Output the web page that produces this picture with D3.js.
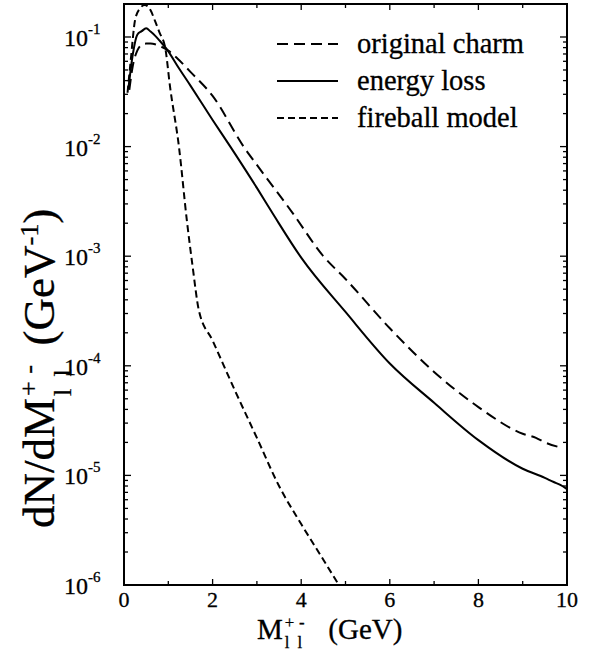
<!DOCTYPE html>
<html>
<head>
<meta charset="utf-8">
<script src="https://cdn.jsdelivr.net/npm/d3@7"></script>
<style>
  body { margin: 0; background: #fff; }
  text { font-family: "Liberation Serif", "Times New Roman", serif; fill: #000; stroke: #000; stroke-width: 0.3px; }
</style>
</head>
<body>
<div id="chart"></div>
<script>
// data (mass in GeV, yield in 1/GeV)
var charmX = [0.12, 0.2, 0.3, 0.4, 0.5, 0.6, 0.7, 0.8, 1.0, 1.2, 1.5, 2.0, 2.7, 3.0, 3.8, 4.5, 5.0, 6.0, 7.0, 8.0, 9.0, 9.3, 9.5, 9.85];
var charmY = [0.033, 0.055, 0.075, 0.085, 0.087, 0.087, 0.086, 0.083, 0.075, 0.064, 0.048, 0.029, 0.01, 0.0068, 0.0025, 0.001, 0.00062, 0.00022, 0.000088, 0.000042, 0.000024, 0.000022, 0.00002, 0.000018];

var elossX = [0.1, 0.2, 0.3, 0.4, 0.5, 0.6, 0.7, 0.8, 1.0, 1.2, 1.5, 2.0, 2.4, 3.0, 3.4, 4.0, 5.0, 6.0, 7.0, 8.0, 9.0, 9.5, 9.7, 9.85, 10.0];
var elossY = [0.034, 0.07, 0.105, 0.113, 0.12, 0.112, 0.103, 0.093, 0.074, 0.055, 0.036, 0.0175, 0.01, 0.0042, 0.0023, 0.00097, 0.00031, 0.000105, 0.000046, 0.000021, 0.0000115, 0.0000095, 0.0000087, 0.0000082, 0.0000075];

var fireX = [0.08, 0.15, 0.25, 0.35, 0.47, 0.6, 0.7, 0.8, 0.93, 1.04, 1.24, 1.42, 1.55, 1.69, 2.0, 2.5, 3.0, 3.5, 4.0, 4.5, 4.85];
var fireY = [0.031, 0.06, 0.143, 0.18, 0.196, 0.175, 0.14, 0.11, 0.08, 0.035, 0.01, 0.0021, 0.0008, 0.00032, 0.00017, 0.00006, 0.000022, 0.000008, 0.0000036, 0.0000017, 0.000001];

var xTicks = [0, 2, 4, 6, 8, 10];
var yExps = [-1, -2, -3, -4, -5, -6];
var legendNames = ["original charm", "energy loss", "fireball model"];

// set the dimensions and margins of the graph
var margin = {top: 4, right: 22, bottom: 69, left: 124},
    width = 589 - margin.left - margin.right,
    height = 654 - margin.top - margin.bottom;

var svg = d3.select("#chart")
  .append("svg")
    .attr("width", 589)
    .attr("height", 654);

var g = svg.append("g")
    .attr("transform", "translate(" + margin.left + "," + margin.top + ")");

var x = d3.scaleLinear().domain([0, 10]).range([0, width]);
var y = d3.scaleLog().domain([1e-6, 0.2]).range([height, 0]);

// minor/major ticks, all pointing inward on the four sides
var xMinor = d3.range(0, 11);
var yMinor = [];
for (var e = -6; e <= -1; e++) {
  for (var k = 1; k <= 9; k++) {
    var v = k * Math.pow(10, e);
    if (v <= 0.2) yMinor.push(v);
  }
}

function isMajorY(v) { return Math.abs(Math.log10(v) - Math.round(Math.log10(v))) < 1e-6; }

var ticks = g.append("g").attr("stroke", "#000").attr("stroke-width", 1.3);
xMinor.forEach(function(v) {
  var len = v % 2 === 0 ? 6 : 4;
  ticks.append("line").attr("x1", x(v)).attr("x2", x(v)).attr("y1", height).attr("y2", height - len);
  ticks.append("line").attr("x1", x(v)).attr("x2", x(v)).attr("y1", 0).attr("y2", len);
});
yMinor.forEach(function(v) {
  var len = isMajorY(v) ? 7 : 4;
  ticks.append("line").attr("x1", 0).attr("x2", len).attr("y1", y(v)).attr("y2", y(v));
  ticks.append("line").attr("x1", width).attr("x2", width - len).attr("y1", y(v)).attr("y2", y(v));
});

// frame
g.append("rect")
  .attr("width", width).attr("height", height)
  .attr("fill", "none").attr("stroke", "#000").attr("stroke-width", 2);

// x tick labels
g.selectAll(".xlab")
  .data(xTicks)
  .enter().append("text")
    .attr("x", function(d) { return x(d); })
    .attr("y", height + 22)
    .attr("text-anchor", "middle")
    .attr("font-size", 22)
    .text(function(d) { return d; });

// y tick labels 10^n
yExps.forEach(function(n) {
  g.append("text")
    .attr("x", -36)
    .attr("y", y(Math.pow(10, n)) + 9)
    .attr("text-anchor", "end")
    .attr("font-size", 24)
    .text("10");
  g.append("text")
    .attr("x", -36)
    .attr("y", y(Math.pow(10, n)) - 3)
    .attr("font-size", 15)
    .text("-" + Math.abs(n));
});

// curves
var line = d3.line()
  .x(function(d) { return x(d[0]); })
  .y(function(d) { return y(d[1]); })
  .curve(d3.curveMonotoneX);

var series = [
  {xs: charmX, ys: charmY, dash: "11,6"},
  {xs: elossX, ys: elossY, dash: null},
  {xs: fireX, ys: fireY, dash: "7,4"}
];

series.forEach(function(s) {
  var pts = s.xs.map(function(v, i) { return [v, s.ys[i]]; });
  g.append("path")
    .datum(pts)
    .attr("fill", "none")
    .attr("stroke", "#000")
    .attr("stroke-width", 2)
    .attr("stroke-dasharray", s.dash)
    .attr("d", line);
});

// legend
var legend = svg.append("g");
legendNames.forEach(function(name, i) {
  var ly = 44 + i * 37;
  legend.append("line")
    .attr("x1", 277).attr("x2", 338).attr("y1", ly).attr("y2", ly)
    .attr("stroke", "#000").attr("stroke-width", 2)
    .attr("stroke-dasharray", series[i].dash);
  legend.append("text")
    .attr("x", 357).attr("y", ly + 9)
    .attr("font-size", 28.5)
    .text(name);
});

// axis title: main text, stacked sub/sup, then the rest placed one after another
function stackedTitle(parent, pre, post, size, gap, subDrop) {
  var grp = parent.append("g");
  var small = size * 0.58;
  var t1 = grp.append("text").attr("font-size", size).text(pre);
  var w1 = t1.node().getComputedTextLength() + 2;
  // subscript l l
  grp.append("text").attr("x", w1).attr("y", subDrop).attr("font-size", small).text("l");
  grp.append("text").attr("x", w1 + small * 0.75).attr("y", subDrop).attr("font-size", small).text("l");
  // superscript + -
  grp.append("text").attr("x", w1).attr("y", -size * 0.37).attr("font-size", small).text("+");
  grp.append("text").attr("x", w1 + small * 0.85).attr("y", -size * 0.37).attr("font-size", small).text("-");
  var cur = w1 + small * 1.4 + gap;
  post.forEach(function(p) {
    var tt = grp.append("text").attr("x", cur).attr("font-size", p.sup ? small : size)
      .attr("y", p.sup ? -size * 0.36 : 0).text(p.t);
    cur += tt.node().getComputedTextLength();
  });
  return {g: grp, w: cur};
}

var xt = stackedTitle(svg, "M", [{t: "(GeV)"}], 29, 20, 9);
xt.g.attr("transform", "translate(257,639)");

var yt = stackedTitle(svg, "dN/dM", [{t: "(GeV"}, {t: "-1", sup: true}, {t: ")"}], 45, 14, 17);
yt.g.attr("transform", "translate(54," + 528 + ") rotate(-90)");
</script>
</body>
</html>
